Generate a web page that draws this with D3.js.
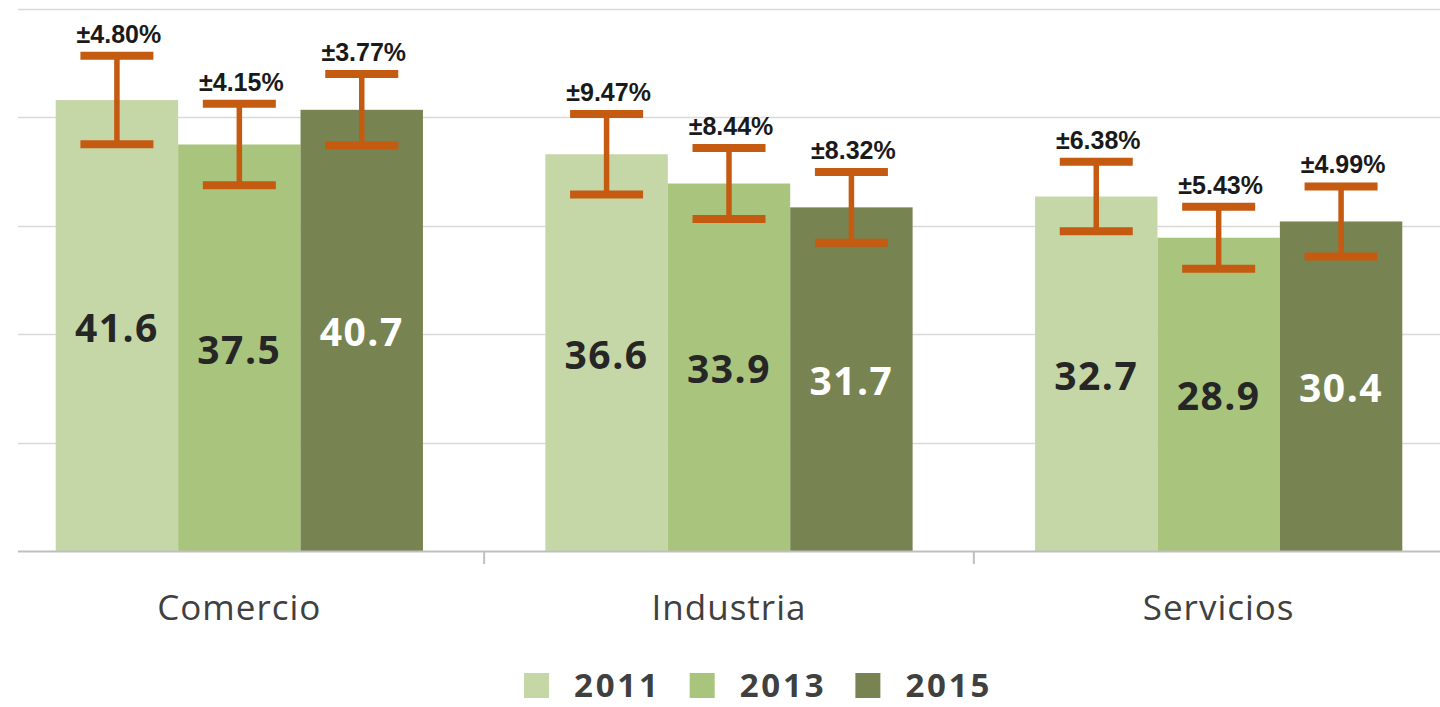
<!DOCTYPE html>
<html>
<head>
<meta charset="utf-8">
<script src="https://cdn.jsdelivr.net/npm/d3@7"></script>
<style>
  html, body { margin: 0; padding: 0; background: #ffffff; }
  svg { display: block; }
</style>
</head>
<body>
<svg id="chart" width="1440" height="707"></svg>
<script>
// ---- data ----
const categories = ["Comercio", "Industria", "Servicios"];
const years = ["2011", "2013", "2015"];
const values2011 = [41.6, 36.6, 32.7];
const values2013 = [37.5, 33.9, 28.9];
const values2015 = [40.7, 31.7, 30.4];
// error bar half-lengths in value units
const errHalf2011 = [4.08, 3.71, 3.20];
const errHalf2013 = [3.76, 3.27, 2.86];
const errHalf2015 = [3.30, 3.27, 3.23];
// error labels
const errLabel2011 = ["±4.80%", "±9.47%", "±6.38%"];
const errLabel2013 = ["±4.15%", "±8.44%", "±5.43%"];
const errLabel2015 = ["±3.77%", "±8.32%", "±4.99%"];
const yTicks = [0, 10, 20, 30, 40, 50];

const seriesValues = [values2011, values2013, values2015];
const seriesErr = [errHalf2011, errHalf2013, errHalf2015];
const seriesErrLabel = [errLabel2011, errLabel2013, errLabel2015];
const colors = ["#C5D7A6", "#A9C47C", "#778452"];
const labelColors = ["#262626", "#262626", "#ffffff"];
const errColor = "#C55A11";

const svg = d3.select("#chart");
const plotLeft = 18, plotRight = 1440, baseY = 551, topY = 9;

const y = d3.scaleLinear().domain([0, 50]).range([baseY, topY]);
const x0 = d3.scaleBand().domain(categories).range([-5.5, 1463.5]).padding(0);
const bw = x0.bandwidth();
const x1 = d3.scaleBand().domain(years).range([bw * 0.125, bw * 0.875]).padding(0);

// gridlines
svg.append("g").selectAll("line").data(yTicks.filter(d => d > 0)).join("line")
  .attr("x1", plotLeft).attr("x2", plotRight)
  .attr("y1", d => Math.round(y(d)) + 0.5).attr("y2", d => Math.round(y(d)) + 0.5)
  .attr("stroke", "#D9D9D9").attr("stroke-width", 1.5);

// bars
const groups = svg.append("g").selectAll("g").data(categories).join("g")
  .attr("transform", d => `translate(${x0(d)},0)`);

years.forEach((yr, si) => {
  groups.append("rect")
    .attr("x", (d) => x1(yr))
    .attr("width", x1.bandwidth())
    .attr("y", (d, i) => y(seriesValues[si][i]))
    .attr("height", (d, i) => y(0) - y(seriesValues[si][i]))
    .attr("fill", colors[si]);
});

// axis line and dividers
svg.append("line").attr("x1", plotLeft).attr("x2", plotRight)
  .attr("y1", baseY + 0.5).attr("y2", baseY + 0.5)
  .attr("stroke", "#BFBFBF").attr("stroke-width", 2);
svg.append("g").selectAll("line").data(categories.slice(1)).join("line")
  .attr("x1", d => x0(d)).attr("x2", d => x0(d))
  .attr("y1", baseY).attr("y2", baseY + 13)
  .attr("stroke", "#BFBFBF").attr("stroke-width", 2);

// category labels
svg.append("g").selectAll("text").data(categories).join("text")
  .attr("x", d => x0(d) + bw / 2)
  .attr("y", 620)
  .attr("text-anchor", "middle")
  .attr("font-family", "'Open Sans', sans-serif")
  .attr("font-size", 35)
  .attr("letter-spacing", 1)
  .attr("fill", "#404040")
  .text(d => d);

// value labels
years.forEach((yr, si) => {
  groups.append("text")
    .attr("x", () => x1(yr) + x1.bandwidth() / 2)
    .attr("y", (d, i) => (y(seriesValues[si][i]) + y(0)) / 2 + 16)
    .attr("text-anchor", "middle")
    .attr("font-family", "'Open Sans', sans-serif")
    .attr("font-weight", 700)
    .attr("font-size", 39)
    .attr("letter-spacing", 1.5)
    .attr("fill", labelColors[si])
    .text((d, i) => seriesValues[si][i].toFixed(1));
});

// error bars
const capW = 73;
years.forEach((yr, si) => {
  const cx = () => x1(yr) + x1.bandwidth() / 2;
  const hiY = (d, i) => y(seriesValues[si][i] + seriesErr[si][i]);
  const loY = (d, i) => y(seriesValues[si][i] - seriesErr[si][i]);
  groups.append("line")
    .attr("x1", cx).attr("x2", cx)
    .attr("y1", hiY).attr("y2", loY)
    .attr("stroke", errColor).attr("stroke-width", 5.5);
  groups.append("line")
    .attr("x1", () => cx() - capW / 2).attr("x2", () => cx() + capW / 2)
    .attr("y1", hiY).attr("y2", hiY)
    .attr("stroke", errColor).attr("stroke-width", 8);
  groups.append("line")
    .attr("x1", () => cx() - capW / 2).attr("x2", () => cx() + capW / 2)
    .attr("y1", loY).attr("y2", loY)
    .attr("stroke", errColor).attr("stroke-width", 8);
  groups.append("text")
    .attr("x", () => cx() + 2)
    .attr("y", (d, i) => hiY(d, i) - 13)
    .attr("text-anchor", "middle")
    .attr("font-family", "'Liberation Sans', Arial, sans-serif")
    .attr("font-weight", 700)
    .attr("font-size", 25)
    .attr("fill", "#1a1a1a")
    .text((d, i) => seriesErrLabel[si][i]);
});

// legend
const legend = svg.append("g");
let lx = 524;
years.forEach((yr, si) => {
  legend.append("rect").attr("x", lx).attr("y", 673).attr("width", 25).attr("height", 25)
    .attr("fill", colors[si]);
  const t = legend.append("text").attr("x", lx + 50).attr("y", 697)
    .attr("font-family", "'Open Sans', sans-serif")
    .attr("font-weight", 700)
    .attr("font-size", 33)
    .attr("letter-spacing", 2.8)
    .attr("fill", "#404040")
    .text(yr);
  const w = t.node().getComputedTextLength();
  lx = lx + 50 + w + 29;
});
</script>
</body>
</html>
